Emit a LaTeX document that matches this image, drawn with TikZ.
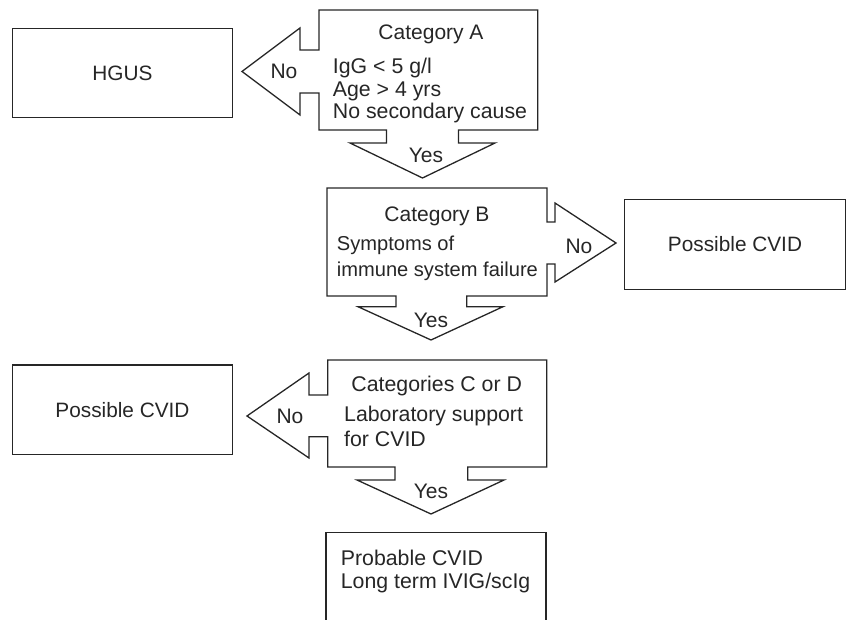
\documentclass[tikz,border=0pt]{standalone}
\usepackage{fontspec}
\setmainfont{Liberation Sans}
\definecolor{ink}{HTML}{262626}
\begin{document}
\begin{tikzpicture}[x=1pt,y=-1pt,
  every node/.style={font=\fontsize{21}{22}\selectfont, text=ink, inner sep=0pt},
  outline/.style={draw=ink, line width=1.3pt, line join=miter},
  result/.style={outline, rectangle, minimum width=220.4pt, minimum height=89.4pt, font=\fontsize{20.8}{22}\selectfont},
  line/.style={anchor=base west},
  head/.style={anchor=base},
  lab/.style={anchor=center},
  narrow/.style={font=\fontsize{20.1}{22}\selectfont},
  wide/.style={font=\fontsize{21.3}{22}\selectfont}]
\useasboundingbox (0,0) rectangle (846,620);

% result boxes
\node[result] (hgus) at (122.5,73) {HGUS};
\node[result] (cvidR) at (735,244.5) {Possible CVID};
\node[result] (cvidL) at (122.5,409.7) {Possible CVID};

% Category A with arrows
\draw[outline] (319,10) -- (537.7,10) -- (537.7,130) -- (458.5,130) -- (458.5,143)
  -- (495,143) -- (422.5,178) -- (350,143) -- (386.5,143) -- (386.5,130) -- (319,130)
  -- (319,93) -- (300,93) -- (300,115) -- (242,71.5) -- (300,28) -- (300,50) -- (319,50) -- cycle;
\node[head] (aH) at (431,40) {Category A};
\node[line,wide] (a1) at (332.7,74) {IgG < 5 g/l};
\node[line,wide] (a2) at (332.7,96.7) {Age > 4 yrs};
\node[line,wide] (a3) at (332.7,118.5) {No secondary cause};
\node[lab] (aNo) at (284,71.5) {No};
\node[lab] (aYes) at (426,155) {Yes};

% Category B with arrows
\draw[outline] (327,188) -- (547,188) -- (547,222) -- (555,222) -- (555,203) -- (616,243)
  -- (555,282) -- (555,264) -- (547,264) -- (547,296) -- (466.7,296) -- (466.7,306.7)
  -- (503,306.7) -- (431,340) -- (358,306.7) -- (396,306.7) -- (396,296) -- (327,296) -- cycle;
\node[head] (bH) at (437,222) {Category B};
\node[line,narrow] (b1) at (336.7,250.5) {Symptoms of};
\node[line,narrow] (b2) at (336.7,277) {immune system failure};
\node[lab] (bNo) at (579,246.5) {No};
\node[lab] (bYes) at (431,320) {Yes};

% Categories C or D with arrows
\draw[outline] (327.7,360) -- (546.7,360) -- (546.7,467) -- (467.7,467) -- (467.7,480)
  -- (504,480) -- (431,514) -- (357,480) -- (395,480) -- (395,467) -- (327.7,467)
  -- (327.7,436.7) -- (309,436.7) -- (309,458) -- (247,416) -- (309,373) -- (309,395)
  -- (327.7,395) -- cycle;
\node[head,wide] (cH) at (436.7,391.7) {Categories C or D};
\node[line,wide] (c1) at (344,421) {Laboratory support};
\node[line,wide] (c2) at (344,446.7) {for CVID};
\node[lab] (cNo) at (290,416.5) {No};
\node[lab] (cYes) at (431,491.5) {Yes};

% Probable CVID (cut off at bottom)
\draw[outline] (326,620) -- (326,532.3) -- (546,532.3) -- (546,620);
\node[line,wide] (d1) at (340.7,565) {Probable CVID};
\node[line,wide] (d2) at (340.7,588) {Long term IVIG/scIg};
\end{tikzpicture}
\end{document}
